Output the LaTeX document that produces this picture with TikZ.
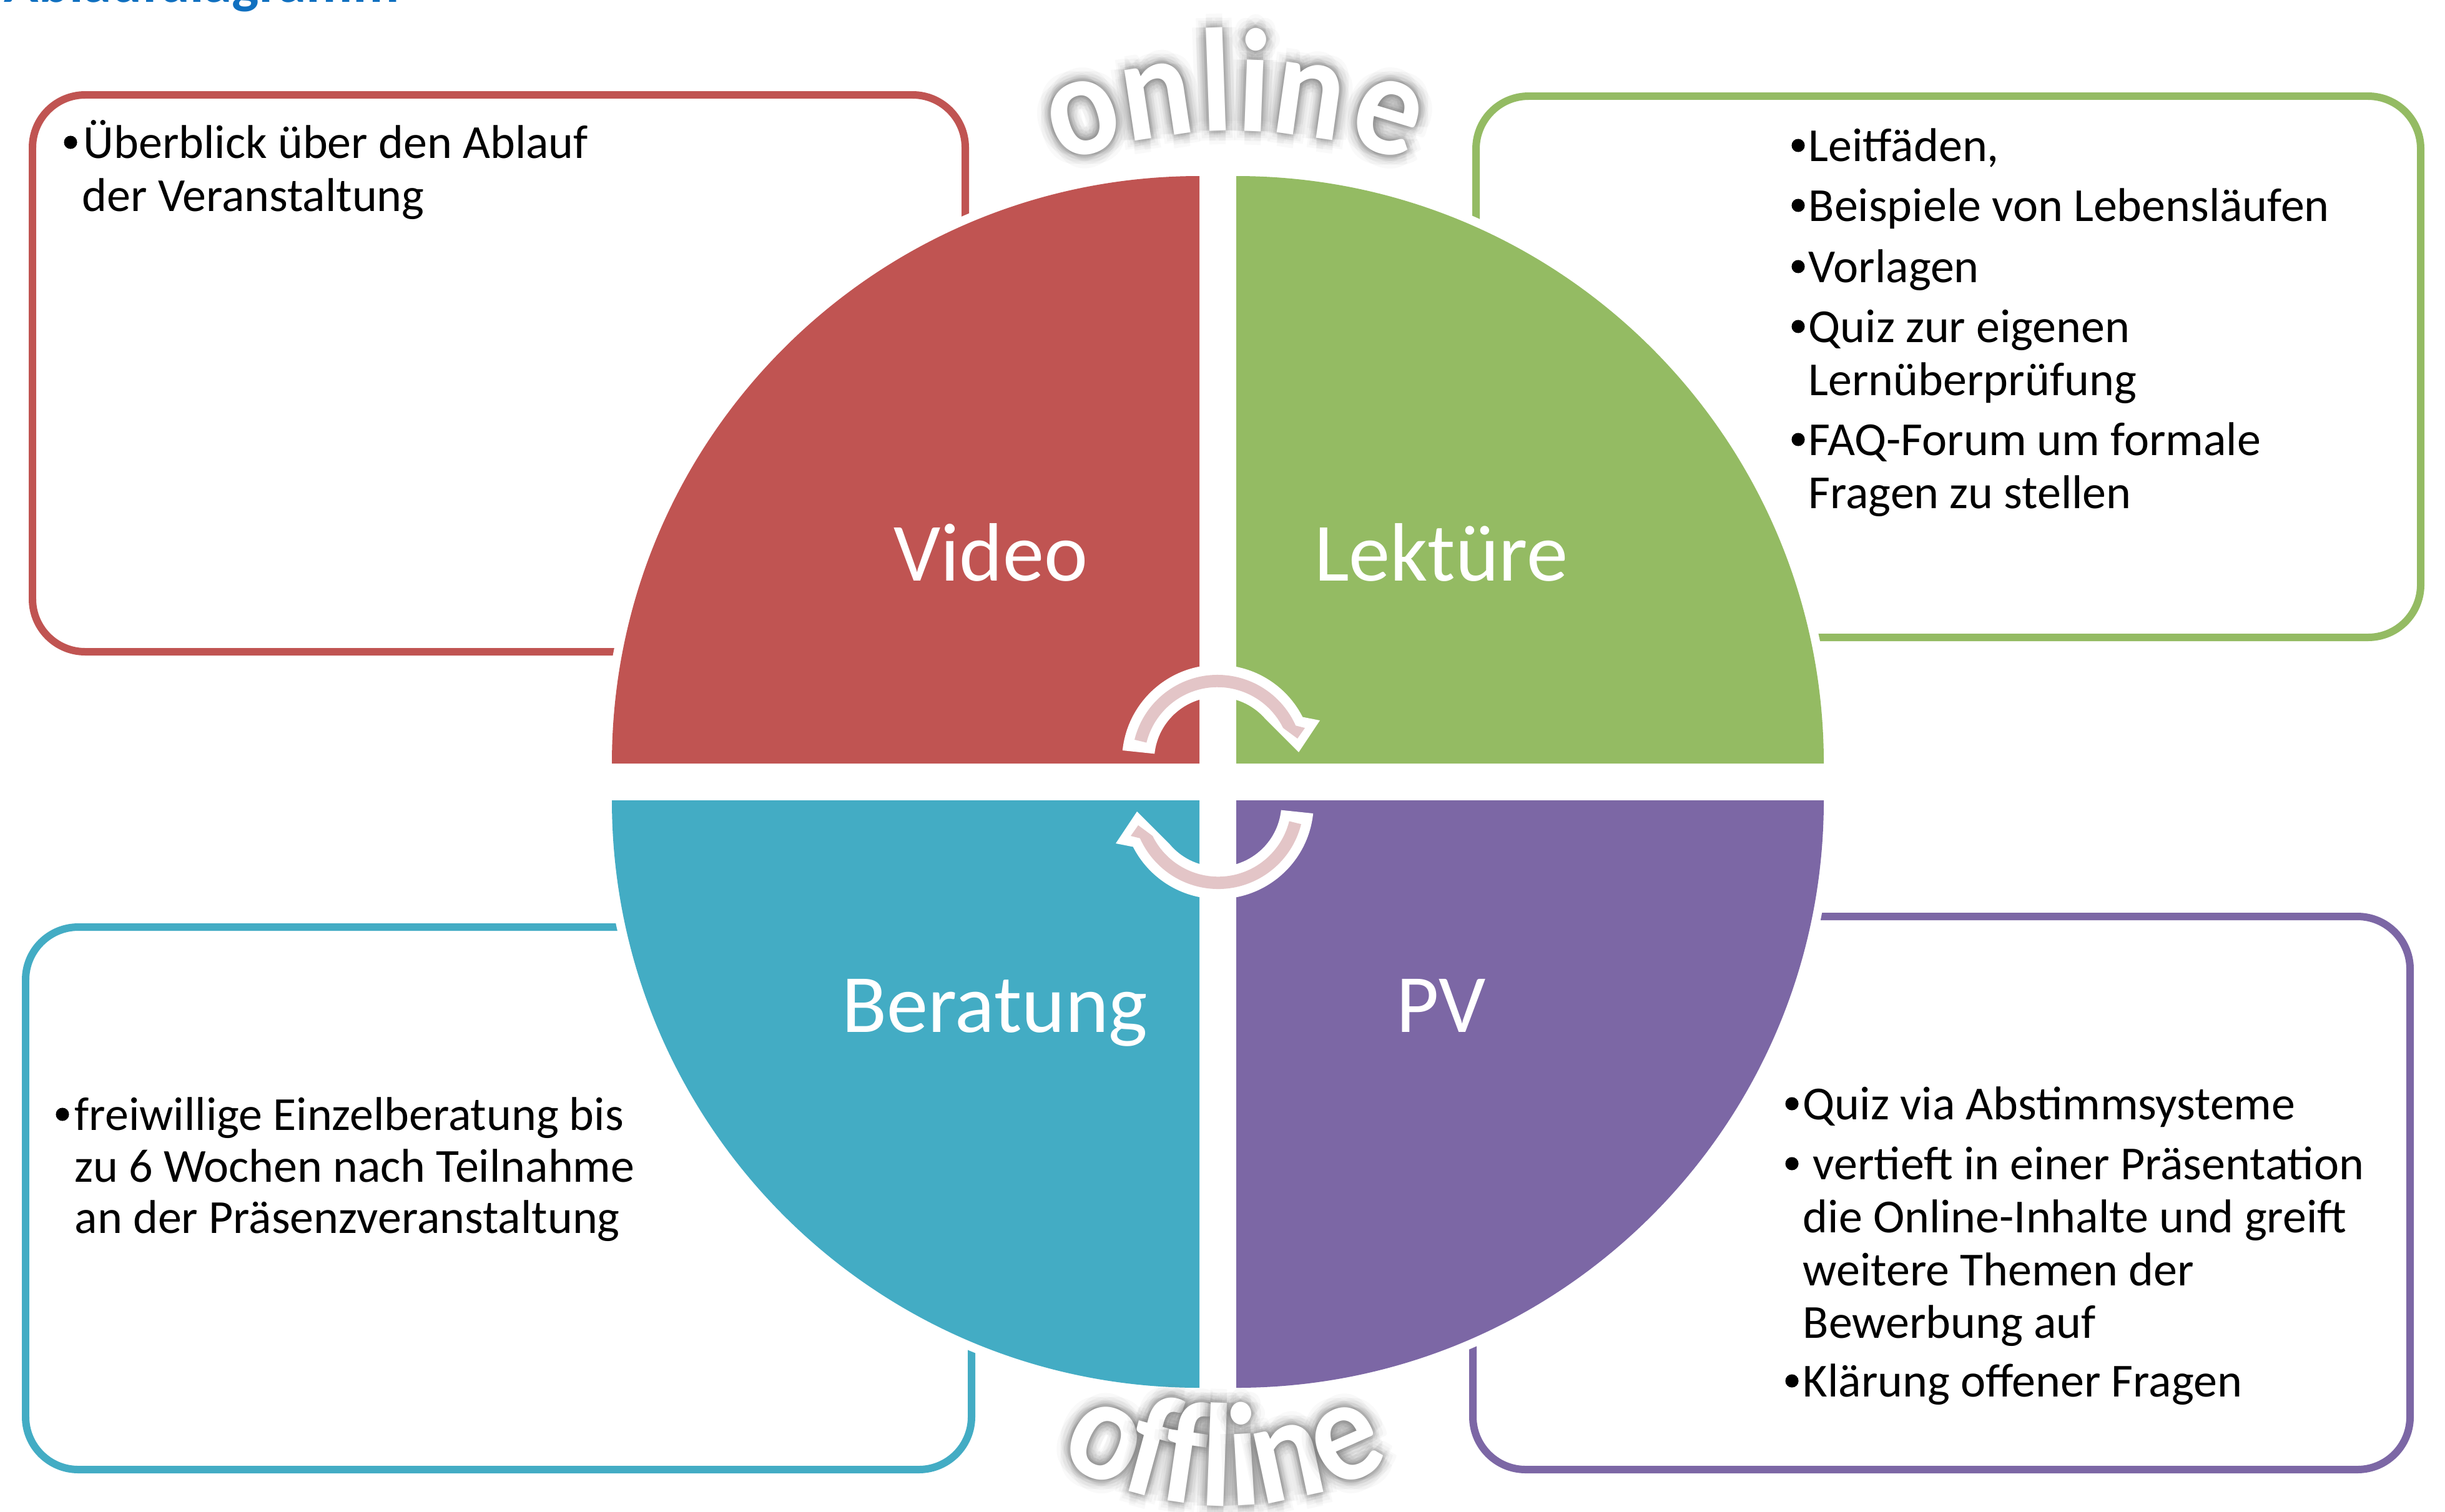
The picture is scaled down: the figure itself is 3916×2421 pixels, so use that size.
\documentclass[tikz,border=0pt]{standalone}
\usepackage{fontspec}
\setmainfont{Carlito}
\usetikzlibrary{calc}
\definecolor{qred}{RGB}{192,84,82}
\definecolor{qgreen}{RGB}{148,187,99}
\definecolor{qteal}{RGB}{67,172,196}
\definecolor{qpurple}{RGB}{124,103,165}
\definecolor{apink}{RGB}{227,197,199}
\definecolor{titleblue}{RGB}{16,112,192}
\newcommand\walet[5]{%
  \foreach \gr/\gop in {22/0.045,16/0.055,10/0.07,5/0.09}{%
    \foreach \ga in {0,45,...,315}{%
      \node[wa, text=black!58, opacity=\gop, rotate=#4, xscale=0.9] (#1g\gr a\ga) at ($(#2,#3)+(\ga:\gr)$) {#5};
    }%
  }%
  \node[wa, text=white, rotate=#4, xscale=0.9] (#1) at (#2,#3) {#5};
}
\begin{document}
\begin{tikzpicture}[x=0.01cm, y=-0.01cm,
  box/.style={line width=3.41pt, rounded corners=24pt, fill=white},
  txt/.style={font=\fontsize{21.6}{26}\selectfont, anchor=base west, inner sep=0pt},
  bul/.style={circle, fill=black, inner sep=0pt, minimum size=6pt},
  qlab/.style={font=\fontsize{37.7}{45}\selectfont, text=white, anchor=base, inner sep=0pt},
  wa/.style={font=\fontsize{67}{78}\selectfont\bfseries, anchor=base, inner sep=0pt},
  halo/.style={preaction={draw=white, line width=8pt, line join=round}}
]
\useasboundingbox (0,0) rectangle (3916,2421);
\clip (0,0) rectangle (3916,2421);

% title (cut at the top edge)
\node[font=\fontsize{26}{30}\selectfont\bfseries, text=titleblue, anchor=base west, inner sep=0pt] (title) at (6,3) {Ablaufdiagramm};

% boxes
\draw[box, draw=qred] (52,152) rectangle (1546,1044);
\draw[box, draw=qgreen] (2364,154) rectangle (3877,1021);
\draw[box, draw=qteal] (41,1485) rectangle (1556,2354);
\draw[box, draw=qpurple] (2359,1468) rectangle (3860,2354);

% quadrants
\path[halo, fill=qred] (1921,1223) -- ++(180:941) arc[start angle=180, end angle=270, radius=941] -- cycle;
\path[halo, fill=qgreen] (1980,1223) -- ++(0:941) arc[start angle=0, end angle=-90, radius=941] -- cycle;
\path[halo, fill=qteal] (1921,1282) -- ++(180:941) arc[start angle=180, end angle=90, radius=941] -- cycle;
\path[halo, fill=qpurple] (1980,1282) -- ++(0:941) arc[start angle=0, end angle=90, radius=941] -- cycle;

% quadrant labels
\node[qlab] (lv) at (1587,930) {Video};
\node[qlab] (ll) at (2308,930) {Lektüre};
\node[qlab] (lb) at (1593,1653) {Beratung};
\node[qlab] (lp) at (2308,1653) {PV};

% cycle arrows
\foreach \rot in {0,180}{
\begin{scope}[rotate around={\rot:(1950.5,1252.5)}]
\begin{scope}[shift={(1950,1218)}]
  \fill[white] (-174:153) arc[start angle=-174, end angle=-27, radius=153]
     -- (164,-64) -- (130,-13) -- (77,-66)
     arc[start angle=-40.6, end angle=-174, radius=101.4] -- cycle;
  \fill[apink] (-166:137) arc[start angle=-166, end angle=-24, radius=137]
     -- (140,-52) -- (128,-35) -- (105,-52)
     arc[start angle=-26.3, end angle=-166, radius=117.2] -- cycle;
\end{scope}
\end{scope}
}

% red box text
\node[bul] (rb1) at (113,228) {};
\node[txt] (rt1) at (133,253) {Überblick über den Ablauf};
\node[txt] (rt2) at (131,338) {der Veranstaltung};

% green box text
\node[bul] (gb1) at (2880,233) {};
\node[txt] (gt1) at (2896,258) {Leitfäden,};
\node[bul] (gb2) at (2880,329) {};
\node[txt] (gt2) at (2896,354) {Beispiele von Lebensläufen};
\node[bul] (gb3) at (2880,427) {};
\node[txt] (gt3) at (2896,452) {Vorlagen};
\node[bul] (gb4) at (2880,523) {};
\node[txt] (gt4) at (2896,548) {Quiz zur eigenen};
\node[txt] (gt5) at (2896,633) {Lernüberprüfung};
\node[bul] (gb5) at (2880,704) {};
\node[txt] (gt6) at (2896,729) {FAQ-Forum um formale};
\node[txt] (gt7) at (2896,814) {Fragen zu stellen};

% teal box text
\node[bul] (tb1) at (100,1785) {};
\node[txt] (tt1) at (119,1810) {freiwillige Einzelberatung bis};
\node[txt] (tt2) at (119,1893) {zu 6 Wochen nach Teilnahme};
\node[txt] (tt3) at (119,1975) {an der Präsenzveranstaltung};

% purple box text
\node[bul] (pb1) at (2870,1768) {};
\node[txt] (pt1) at (2887,1793) {Quiz via Abstimmsysteme};
\node[bul] (pb2) at (2870,1864) {};
\node[txt] (pt2) at (2903,1889) {vertieft in einer Präsentation};
\node[txt] (pt3) at (2887,1974) {die Online-Inhalte und greift};
\node[txt] (pt4) at (2887,2059) {weitere Themen der};
\node[txt] (pt5) at (2887,2143) {Bewerbung auf};
\node[bul] (pb3) at (2870,2212) {};
\node[txt] (pt6) at (2887,2237) {Klärung offener Fragen};

% word art "online"
\walet{on1}{1752}{244}{16.7}{o}
\walet{on2}{1862}{219}{8.5}{n}
\walet{on3}{1950}{210}{2.0}{l}
\walet{on4}{2006}{210}{-2.1}{i}
\walet{on5}{2089}{218}{-8.0}{n}
\walet{on6}{2206}{243}{-16.8}{e}

% word art "offline"
\walet{of1}{1744}{2364}{-24.6}{o}
\walet{of2}{1825}{2393}{-15.3}{f}
\walet{of3}{1888}{2406}{-8.3}{f}
\walet{of4}{1946}{2412}{-2.1}{l}
\walet{of5}{1996}{2411}{3.3}{i}
\walet{of6}{2075}{2400}{12.0}{n}
\walet{of7}{2180}{2366}{23.9}{e}
\end{tikzpicture}
\end{document}
